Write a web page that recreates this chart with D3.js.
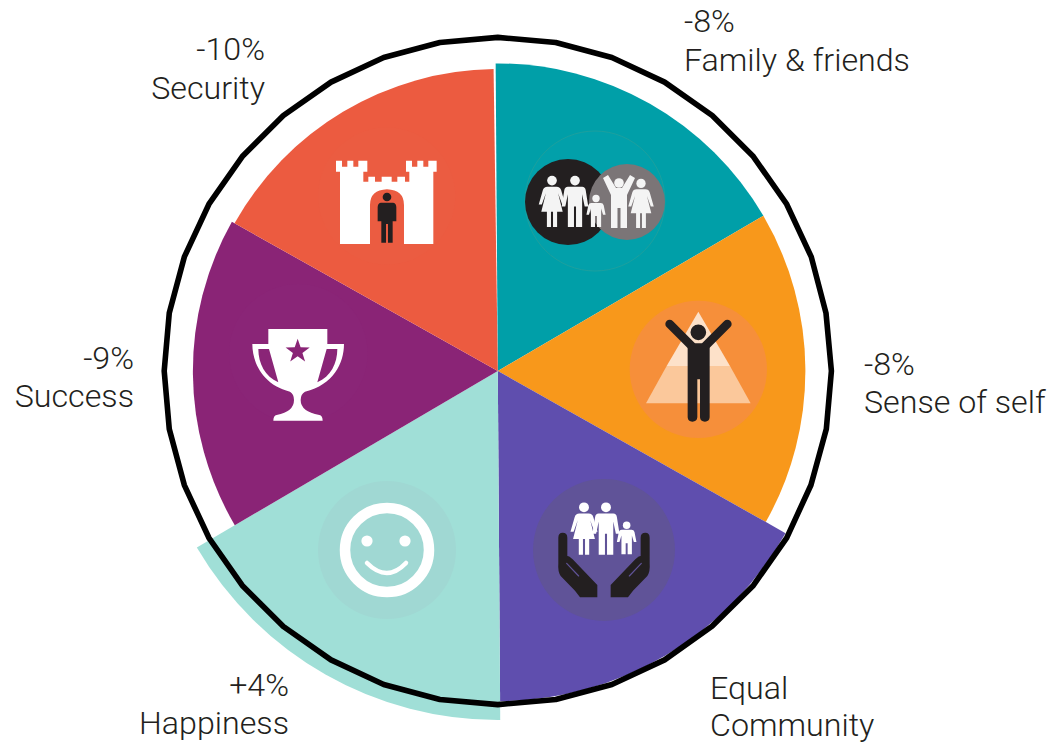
<!DOCTYPE html>
<html><head><meta charset="utf-8">
<script src="https://cdn.jsdelivr.net/npm/d3@7/dist/d3.min.js"></script>
<style>html,body{margin:0;padding:0;background:#fff}svg{display:block}
text{font-family:Roboto,sans-serif;font-weight:300;font-size:32.2px;fill:#231f20}</style>
</head><body><svg id="c" width="1063" height="743"></svg>
<script>
const categories = ["Family & friends","Sense of self","Equal Community","Happiness","Success","Security"];
const changeLabels = ["-8%","-8%","","+4%","-9%","-10%"];
// slice sizes in degrees, and reach of each slice against the reference ring (100 = ring)
const sliceSpan = [60.1,59.7,60.2,60.0,59.7,59.9];
const sliceReach = [92.2,92.2,99.0,104.6,91.4,90.5];
const sliceColors = ["#009fa8","#f8981b","#5f4eae","#a0dfd7","#8a2476","#ec5b40"];
// reference ring, one reading every 10 degrees
const ringReach = [100,100,100,100,100,100,100,100,99.9,100,100,99.9,100,100,99.9,100,100,100,
                   100,100,100,100,100,100,100,100,100,100,100,100,100,100,100,100,100,100];
const labelAnchors = ["start","start","start","end","end","end"];
const labelLines = [["-8%","Family & friends"],["-8%","Sense of self"],["Equal","Community"],["+4%","Happiness"],["-9%","Success"],["-10%","Security"]];
const labelX = [684,864,710,289,134,265];
const labelY = [32,375,699,696,369,60];
const labelGap = [39,38,37,38,38,39];

const svg = d3.select("#c");
const cx = 497.8, cy = 371;
const r = d3.scaleLinear().domain([0,100]).range([0,333.6]);
const root = svg.append("g").attr("transform",`translate(${cx},${cy})`);

const gap = 0.4;
const pie = d3.pie().sort(null).value(d=>d.v)
  .startAngle(-0.4*Math.PI/180).endAngle((360-0.4)*Math.PI/180);
const arcs = pie(categories.map((c,i)=>({c,v:sliceSpan[i],i})).concat([{c:"",v:gap,i:-1}])).filter(d=>d.data.i>=0);
const arc = d3.arc().innerRadius(0);
root.selectAll("path.slice").data(arcs).join("path").attr("class","slice")
  .attr("fill",d=>sliceColors[d.data.i])
  .attr("d",d=>arc({startAngle:d.startAngle,endAngle:d.endAngle,outerRadius:r(sliceReach[d.data.i])}));

// icons
const ink="#231f20";
function man(g,x,y,h,col){const s=g.append("g").attr("transform",`translate(${x},${y}) scale(${h})`).attr("fill",col);
  s.append("circle").attr("cy",.09).attr("r",.095);
  s.append("path").attr("d","M-.14,.21H.14Q.2,.21.21,.28L.26,.6H.19L.14,.36V1H.02V.6H-.02V1H-.14V.36L-.19,.6H-.26L-.21,.28Q-.2,.21-.14,.21Z");}
function woman(g,x,y,h,col){const s=g.append("g").attr("transform",`translate(${x},${y}) scale(${h})`).attr("fill",col);
  s.append("circle").attr("cy",.09).attr("r",.095);
  s.append("path").attr("d","M-.09,.21H.09Q.16,.21.18,.28L.26,.56H.2L.12,.34L.21,.7H.1V1H.02V.7H-.02V1H-.1V.7H-.21L-.12,.34L-.2,.56H-.26L-.18,.28Q-.16,.21-.09,.21Z");}
function child(g,x,y,h,col){const s=g.append("g").attr("transform",`translate(${x},${y}) scale(${h})`).attr("fill",col);
  s.append("circle").attr("cy",.11).attr("r",.115);
  s.append("path").attr("d","M-.15,.25H.15Q.22,.25.24,.32L.3,.62H.22L.16,.42V1H.03V.66H-.03V1H-.16V.42L-.22,.62H-.3L-.24,.32Q-.22,.25-.15,.25Z");}
const ic = svg.append("g");

// family & friends
const f = ic.append("g");
f.append("circle").attr("cx",595).attr("cy",201).attr("r",70).attr("fill","#02a0aa").attr("stroke","#2a9f9a").attr("stroke-width",.7);
f.append("circle").attr("cx",568).attr("cy",202).attr("r",43).attr("fill",ink);
f.append("circle").attr("cx",627).attr("cy",202).attr("r",38).attr("fill","#7b7577");
woman(f,552,176,51,"#f4f4f4"); man(f,575,176,51,"#f4f4f4"); child(f,596,195,32,"#f4f4f4");
woman(f,641,179,49,"#f4f4f4");
const up=f.append("g").attr("fill","#f4f4f4");
up.append("circle").attr("cx",619).attr("cy",183).attr("r",4.8);
up.append("path").attr("d","M603,178L608,175L616,188H622L630,175L635,178L627,195V228H620.5V208H617.5V228H611V195Z");

// security
const s = ic.append("g").attr("transform","translate(310,130) scale(.3333)");
s.append("circle").attr("cx",230).attr("cy",198).attr("r",206).attr("fill","#eb5c41");
s.append("path").attr("fill","#fff").attr("d","M78,92H96V110H112V92H130V110H145V92H172V125H160V155H175V140H195V155H215V140H245V155H262V140H285V155H298V125H288V92H306V110H322V92H340V110H355V92H380V125H370V342H282V225Q282,180 231,178Q180,180 180,225V342H90V125H78Z");
s.append("circle").attr("cx",231).attr("cy",201).attr("r",13).attr("fill",ink);
s.append("path").attr("fill",ink).attr("d","M212,218H250Q259,220 259,232V274H248V338H234V282H228V338H214V274H203V232Q203,220 212,218Z");

// sense of self
const e = ic.append("g").attr("transform","translate(610,290) scale(.3333)");
e.append("circle").attr("cx",265).attr("cy",238).attr("r",206).attr("fill","#f68f3a");
e.append("path").attr("fill","#fbc89b").attr("d","M170,228H360L422,340H108Z");
e.append("path").attr("fill","#fde1c9").attr("d","M265,65L360,228H170Z");
e.append("circle").attr("cx",265).attr("cy",127).attr("r",26).attr("fill",ink).attr("stroke","#fde1c9").attr("stroke-width",5);
e.append("path").attr("fill","none").attr("stroke",ink).attr("stroke-width",26).attr("stroke-linecap","round").attr("d","M179,102L245,168M352,102L286,168");
e.append("path").attr("fill",ink).attr("d","M238,160H294Q300,165 299,175V382Q298,395 285,395Q271,395 270,382V268H262V382Q261,395 247,395Q234,395 233,382V175Q232,165 238,160Z");

// equal community
const q = ic.append("g").attr("transform","translate(520,470) scale(.3333)");
q.append("circle").attr("cx",252).attr("cy",240).attr("r",213).attr("fill","#605398");
woman(q,192,98,156,"#fff"); man(q,258,98,156,"#fff"); child(q,320,155,98,"#fff");
[0,1].forEach(k=>{const h=q.append("g").attr("transform",k?"translate(504,0) scale(-1,1)":null);
  h.append("path").attr("fill",ink).attr("d","M115,203Q115,188 128,188Q142,188 142,203V258Q148,258 158,268L232,345V382H180L165,362L122,318Q113,305 115,280Z");
  h.append("path").attr("fill","none").attr("stroke","#605398").attr("stroke-width",3.5).attr("stroke-linecap","round").attr("d","M140,280L176,318");});

// happiness
const h = ic.append("g");
h.append("circle").attr("cx",387).attr("cy",550).attr("r",69).attr("fill","#a0d8d3");
h.append("circle").attr("cx",387).attr("cy",550).attr("r",42).attr("fill","none").attr("stroke","#fff").attr("stroke-width",10.5);
h.append("circle").attr("cx",367).attr("cy",541).attr("r",5.6).attr("fill","#fff");
h.append("circle").attr("cx",405).attr("cy",541).attr("r",5.6).attr("fill","#fff");
h.append("path").attr("fill","none").attr("stroke","#fff").attr("stroke-width",4.5).attr("stroke-linecap","round").attr("d","M367,563Q387,583 406,563");

// success
const t = ic.append("g").attr("transform","translate(230,320) scale(.3333)");
t.append("circle").attr("cx",205).attr("cy",100).attr("r",208).attr("fill","#8a2577");
t.append("path").attr("fill","#fff").attr("fill-rule","evenodd").attr("d","M115,27H292V72H342C342,130 310,195 225,215Q212,222 212,240Q212,275 268,285Q278,287 278,302H130Q130,287 140,285Q192,275 192,240Q192,222 180,215C100,195 67,130 67,72H115ZM85,87H117L145,187C105,170 85,130 85,87ZM322,87H290L262,187C302,170 322,130 322,87Z");
const star = d3.range(10).map(i=>{const a=i*Math.PI/5,R=i%2?15:38;return [203+R*Math.sin(a),94-R*Math.cos(a)];});
t.append("path").attr("fill","#8a2476").attr("d",d3.line()(star)+"Z");

// ring
const ring = d3.lineRadial().angle((d,i)=>i*10*Math.PI/180).radius(d=>r(d)).curve(d3.curveLinearClosed);
root.append("path").attr("d",ring(ringReach)).attr("fill","none").attr("stroke","#000").attr("stroke-width",5.6).attr("stroke-linejoin","round");

// labels
labelLines.forEach((ls,i)=>{
  ls.forEach((l,j)=>svg.append("text").attr("x",labelX[i]).attr("y",labelY[i]+j*labelGap[i]).attr("text-anchor",labelAnchors[i]).text(l));
});
</script></body></html>
